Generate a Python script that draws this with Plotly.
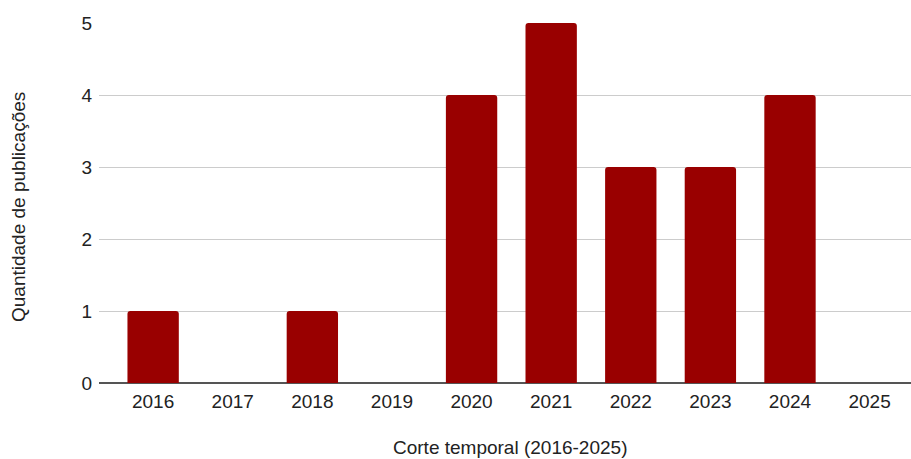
import plotly.graph_objects as go

years = ["2016", "2017", "2018", "2019", "2020", "2021", "2022", "2023", "2024", "2025"]
counts = [1, 0, 1, 0, 4, 5, 3, 3, 4, 0]
y_ticks = [0, 1, 2, 3, 4, 5]

FONT = "Liberation Sans, Arial, sans-serif"

fig = go.Figure(
    go.Bar(
        x=list(range(len(years))),
        y=counts,
        marker=dict(color="#990000", cornerradius=3, line=dict(width=0)),
        width=0.645,
    )
)

fig.update_layout(
    width=911,
    height=459,
    margin=dict(l=99, r=0, t=23, b=76),
    plot_bgcolor="white",
    paper_bgcolor="white",
    showlegend=False,
    font=dict(family=FONT, size=19, color="#222222"),
    xaxis=dict(
        tickmode="array",
        tickvals=list(range(len(years))),
        ticktext=years,
        range=[-0.68, 9.52],
        showgrid=False,
        zeroline=False,
        showline=False,
        ticks="",
        ticklabelstandoff=5,
        tickfont=dict(size=19, color="#222222"),
    ),
    yaxis=dict(
        range=[0, 5],
        tickvals=y_ticks,
        showgrid=True,
        gridcolor="#cccccc",
        gridwidth=1,
        zeroline=True,
        zerolinecolor="#555555",
        zerolinewidth=2,
        showline=False,
        ticks="",
        ticklabelstandoff=6,
        tickfont=dict(size=19, color="#222222"),
    ),
    annotations=[
        dict(
            text="Corte temporal (2016-2025)",
            x=510, xref="paper", y=447, yref="paper",
            showarrow=False, font=dict(size=19, color="#222222"),
        ),
        dict(
            text="Quantidade de publicações",
            x=18, y=207, showarrow=False, textangle=-90,
            font=dict(size=19, color="#222222"),
        ),
    ],
)

# convert pixel annotation positions to paper coordinates
pw = 911 - 99 - 0
ph = 459 - 23 - 76
for ann in fig.layout.annotations:
    px, py = ann.x, ann.y
    ann.update(
        x=(px - 99) / pw, xref="paper", xanchor="center",
        y=(459 - 76 - py) / ph, yref="paper", yanchor="middle",
    )

fig.write_html("out.html")
